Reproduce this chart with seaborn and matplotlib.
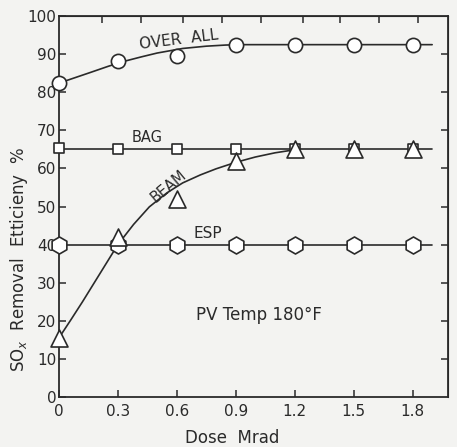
import matplotlib
matplotlib.use("Agg")
import matplotlib.pyplot as plt
import seaborn as sns
import pandas as pd

# ---- data ----
dose = [0, 0.3, 0.6, 0.9, 1.2, 1.5, 1.8]
overall = [82.4, 88.2, 89.5, 92.5, 92.5, 92.5, 92.5]
bag = [65.3, 65.0, 65.0, 65.0, 65.0, 65.0, 65.0]
beam = [15.5, 42.0, 52.0, 62.0, 65.0, 65.0, 65.0]
esp = [40, 40, 40, 40, 40, 40, 40]

# fitted curves as drawn in the reference (read points)
overall_curve_x = [0, 0.08, 0.16, 0.25, 0.33, 0.42, 0.5, 0.63, 0.75, 0.85, 0.95, 1.9]
overall_curve_y = [82.4, 83.8, 85.2, 86.8, 88.1, 89.3, 90.3, 91.5, 92.1, 92.4, 92.5, 92.5]
beam_curve_x = [0, 0.06, 0.12, 0.18, 0.24, 0.30, 0.38, 0.46, 0.55, 0.63, 0.72, 0.80, 0.90, 1.0, 1.1, 1.2]
beam_curve_y = [15.5, 20.2, 25.0, 30.0, 35.0, 40.0, 45.3, 49.9, 53.6, 56.2, 58.3, 59.9, 61.6, 63.0, 64.1, 64.9]
bag_line_x = [-0.02, 1.9]
bag_line_y = [65.0, 65.0]
esp_line_x = [0, 1.9]
esp_line_y = [40, 40]

x_ticks = [0, 0.3, 0.6, 0.9, 1.2, 1.5, 1.8]
x_tick_labels = ["0", "0.3", "0.6", "0.9", "1.2", "1.5", "1.8"]
y_ticks = [0, 10, 20, 30, 40, 50, 60, 70, 80, 90, 100]
top_ticks = [0.22, 0.42, 0.63, 0.83, 1.03, 1.24, 1.43, 1.63, 1.83]

sns.set_style("ticks")
plt.rcParams['font.family'] = ['DejaVu Sans']

ink = "#2a2a2a"
bg = "#f3f3f1"

fig = plt.figure(figsize=(4.57, 4.47), dpi=100, facecolor=bg)
ax = fig.add_axes([0.129, 0.112, 0.851, 0.852], facecolor=bg)

lw = 1.2
# lines
sns.lineplot(x=overall_curve_x, y=overall_curve_y, sort=False, ax=ax, color=ink, lw=lw)
sns.lineplot(x=beam_curve_x, y=beam_curve_y, sort=False, ax=ax, color=ink, lw=lw)
sns.lineplot(x=bag_line_x, y=bag_line_y, sort=False, ax=ax, color=ink, lw=lw)
sns.lineplot(x=esp_line_x, y=esp_line_y, sort=False, ax=ax, color=ink, lw=lw)

# markers
kw = dict(color="white", edgecolor=ink, linewidth=1.2, ax=ax, clip_on=False, zorder=5, legend=False)
sns.scatterplot(x=dose, y=overall, marker="o", s=105, **kw)
sns.scatterplot(x=dose, y=bag, marker="s", s=45, **kw)
sns.scatterplot(x=dose, y=esp, marker="h", s=150, **kw)
kw["zorder"] = 6
sns.scatterplot(x=dose, y=beam, marker="^", s=150, **kw)

ax.set_xlim(0, 1.98)
ax.set_ylim(0, 100)
ax.set_xticks(x_ticks)
ax.set_xticklabels(x_tick_labels)
ax.set_yticks(y_ticks)
ax.tick_params(axis="both", direction="in", length=5, width=1.1, colors=ink,
               labelsize=11, pad=5)
ax.tick_params(axis="y", pad=2)
for s in ax.spines.values():
    s.set_visible(True)
    s.set_linewidth(1.3)
    s.set_color(ink)

# top and right tick marks
axt = ax.secondary_xaxis("top")
axt.set_xticks(top_ticks)
axt.tick_params(direction="in", length=5, width=1.1, colors=ink, labeltop=False)
axr = ax.secondary_yaxis("right")
axr.set_yticks(y_ticks[1:-1])
axr.tick_params(direction="in", length=5, width=1.1, colors=ink, labelright=False)

ax.set_xlabel("Dose  Mrad", fontsize=12, color=ink)
ax.xaxis.set_label_coords(0.445, -0.085)
ax.set_ylabel("SO$_x$  Removal  Etticieny  %", fontsize=12, color=ink)
ax.yaxis.set_label_coords(-0.075, 0.36)

ax.text(0.61, 93.8, "OVER  ALL", fontsize=11, color=ink, rotation=7, ha="center", va="center")
ax.text(0.45, 68.2, "BAG", fontsize=10.5, color=ink, ha="center", va="center")
ax.text(0.56, 55.2, "BEAM", fontsize=10.5, color=ink, rotation=40, ha="center", va="center")
ax.text(0.76, 43.0, "ESP", fontsize=11, color=ink, ha="center", va="center")
ax.text(0.70, 21.5, "PV Temp 180°F", fontsize=12, color=ink, ha="left", va="center")

fig.savefig("out.png", dpi=100, facecolor=bg)
